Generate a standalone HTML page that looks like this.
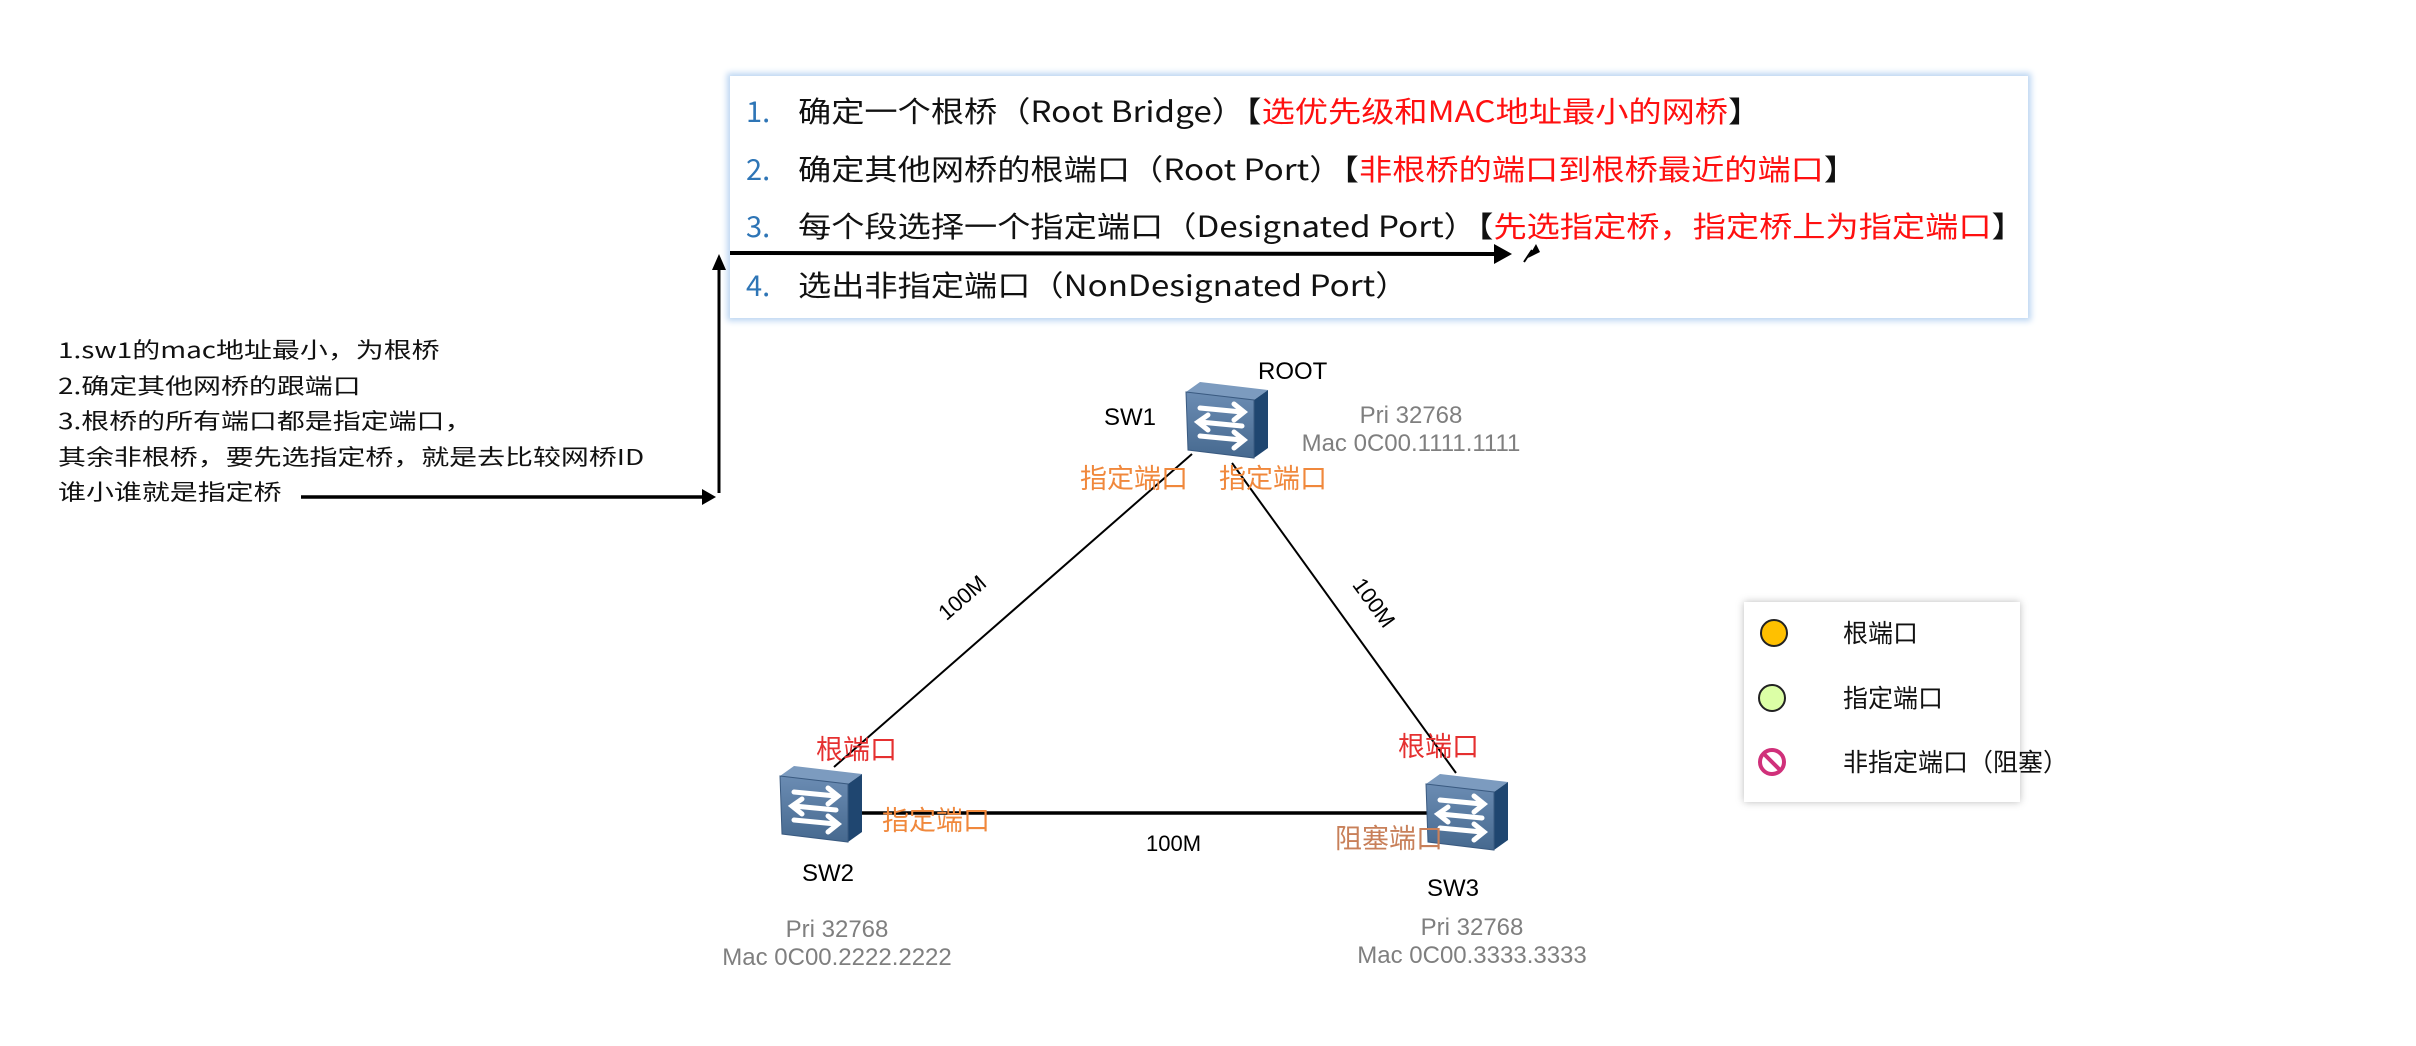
<!DOCTYPE html>
<html><head><meta charset="utf-8">
<style>
body{margin:0;width:2416px;height:1046px;background:#fff;position:relative;overflow:hidden;font-family:"Liberation Sans","Noto Sans CJK SC",sans-serif;}
.a{position:absolute;white-space:nowrap;}
.s{display:inline-block;transform-origin:left center;}
.box{position:absolute;left:730px;top:76px;width:1298px;height:242px;background:#fff;box-shadow:0 0 6px 3px #bcd6f2;}
.tl{position:absolute;left:746px;font-size:29px;line-height:40px;color:#111;font-family:"Noto Sans CJK SC","Liberation Sans",sans-serif;}
.tl .n{color:#2e75b6;display:inline-block;width:52px;}
.r{color:#ff1010;}
.lt{font-size:22px;line-height:35.5px;color:#111;font-family:"Noto Sans CJK SC",sans-serif;}
.gray{color:#7f7f7f;font-size:24px;text-align:center;}
.lab{font-size:27px;font-family:"Noto Sans CJK SC",sans-serif;}
</style></head><body>

<div class="box"></div>
<div class="tl" style="top:90px"><span class="n">1.</span><span class="s" style="transform:scaleX(1.145)">确定一个根桥（Root Bridge）【<span class="r">选优先级和MAC地址最小的网桥</span>】</span></div>
<div class="tl" style="top:148px"><span class="n">2.</span><span class="s" style="transform:scaleX(1.145)">确定其他网桥的根端口（Root Port）【<span class="r">非根桥的端口到根桥最近的端口</span>】</span></div>
<div class="tl" style="top:205px"><span class="n">3.</span><span class="s" style="transform:scaleX(1.145)">每个段选择一个指定端口（Designated Port）【<span class="r">先选指定桥，指定桥上为指定端口</span>】</span></div>
<div class="tl" style="top:264px"><span class="n">4.</span><span class="s" style="transform:scaleX(1.145)">选出非指定端口（NonDesignated Port）</span></div>

<div class="a lt" style="left:58px;top:332px"><span class="s" style="transform:scaleX(1.27)">1.sw1的mac地址最小，为根桥<br>2.确定其他网桥的跟端口<br>3.根桥的所有端口都是指定端口，<br>其余非根桥，要先选指定桥，就是去比较网桥ID<br>谁小谁就是指定桥</span></div>

<svg class="a" style="left:0;top:0" width="2416" height="1046">
<defs>
<linearGradient id="g" x1="0" y1="0" x2="0" y2="1"><stop offset="0" stop-color="#6b8cb3"/><stop offset="1" stop-color="#46698f"/></linearGradient>
<g id="sw">
<polygon points="0,12 14,2 82,10 68,20" fill="#7c9bbf"/>
<polygon points="68,20 82,10 82,68 68,78" fill="#1f4670"/>
<polygon points="0,12 68,20 68,78 2,70" fill="url(#g)" stroke="#3a5a80"/>
<g stroke="#fff" stroke-width="5" fill="none" stroke-linecap="round">
<line x1="14" y1="28" x2="56" y2="32"/><polyline points="48,24 58,32 48,40"/>
<line x1="56" y1="46" x2="14" y2="42"/><polyline points="22,35 12,42 22,50"/>
<line x1="14" y1="56" x2="56" y2="60"/><polyline points="48,52 58,60 48,68"/>
</g></g>
</defs>
<g stroke="#000">
<line x1="1192" y1="454" x2="834" y2="767" stroke-width="2"/>
<line x1="1232" y1="463" x2="1456" y2="773" stroke-width="2"/>
<line x1="860" y1="813" x2="1427" y2="813" stroke-width="3.5"/>
</g>
<use href="#sw" x="1186" y="380"/>
<use href="#sw" x="780" y="764"/>
<use href="#sw" x="1426" y="772"/>
<line x1="730" y1="253" x2="1498" y2="254" stroke="#000" stroke-width="4"/>
<path d="M1494,244 L1512,254 L1494,264 z" fill="#000"/>
<path d="M1528,258 L1536,244 L1540,252 z" fill="#000"/>
<line x1="1524" y1="262" x2="1532" y2="250" stroke="#000" stroke-width="2"/>
<line x1="719" y1="493" x2="719" y2="268" stroke="#000" stroke-width="3"/>
<path d="M712,270 L719,254 L726,270 z" fill="#000"/>
<line x1="301" y1="497" x2="704" y2="497" stroke="#000" stroke-width="3.5"/>
<path d="M702,489 L716,497 L702,505 z" fill="#000"/>
<rect x="1744" y="602" width="276" height="200" fill="#fff" style="filter:drop-shadow(0 0 4px #bbb)"/>
<circle cx="1774" cy="633" r="13" fill="#ffc000" stroke="#222" stroke-width="2"/>
<circle cx="1772" cy="698" r="13" fill="#dcffa6" stroke="#222" stroke-width="2"/>
<circle cx="1772" cy="762" r="12" fill="none" stroke="#d0307a" stroke-width="4"/>
<line x1="1764" y1="754" x2="1780" y2="770" stroke="#d0307a" stroke-width="4"/>
</svg>

<div class="a" style="left:1258px;top:358px;font-size:24px">ROOT</div>
<div class="a" style="left:1104px;top:404px;font-size:24px">SW1</div>
<div class="a gray" style="left:1290px;top:402px;width:242px">Pri 32768<br>Mac 0C00.1111.1111</div>
<div class="a lab" style="left:1080px;top:457px;color:#f0883c">指定端口</div>
<div class="a lab" style="left:1219px;top:457px;color:#f0883c">指定端口</div>

<div class="a" style="left:935px;top:585px;font-size:22px;transform:rotate(-41deg)">100M</div>
<div class="a" style="left:1346px;top:590px;font-size:22px;transform:rotate(54deg)">100M</div>
<div class="a" style="left:1146px;top:831px;font-size:22px">100M</div>

<div class="a lab" style="left:816px;top:728px;color:#e53030">根端口</div>
<div class="a lab" style="left:882px;top:799px;color:#f0883c">指定端口</div>
<div class="a lab" style="left:1398px;top:725px;color:#e53030">根端口</div>
<div class="a lab" style="left:1335px;top:817px;color:#c8805a">阻塞端口</div>

<div class="a" style="left:802px;top:860px;font-size:24px">SW2</div>
<div class="a" style="left:1427px;top:875px;font-size:24px">SW3</div>
<div class="a gray" style="left:712px;top:916px;width:250px">Pri 32768<br>Mac 0C00.2222.2222</div>
<div class="a gray" style="left:1347px;top:914px;width:250px">Pri 32768<br>Mac 0C00.3333.3333</div>

<div class="a lab" style="left:1843px;top:614px;color:#111;font-size:25px">根端口</div>
<div class="a lab" style="left:1843px;top:679px;color:#111;font-size:25px">指定端口</div>
<div class="a lab" style="left:1843px;top:743px;color:#111;font-size:25px">非指定端口（阻塞）</div>
</body></html>
